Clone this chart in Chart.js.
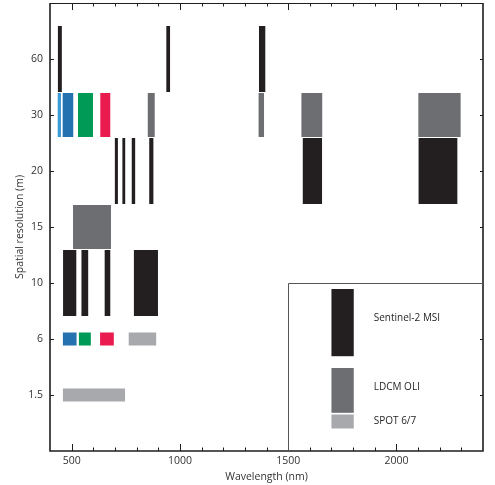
<!DOCTYPE html>
<html><head><meta charset="utf-8">
<script src="https://cdn.jsdelivr.net/npm/chart.js@4.4.1/dist/chart.umd.min.js"></script>
<style>html,body{margin:0;padding:0;background:#fff;}#wrap{width:495px;height:485px;position:relative;}</style>
</head><body><div id="wrap"><canvas id="c"></canvas></div>
<script>
// ---- data ----
const resolutionLabels = ['60', '30', '20', '15', '10', '6', '1.5'];
const xTickLabels = [500, 1000, 1500, 2000];
const xMinorStep = 100;

// Sentinel-2 MSI bands (nm) and resolution (m)
const s2Start = [434, 935, 1363, 697, 732, 775, 856, 1565, 2100, 458, 543, 650, 785];
const s2End   = [457, 957, 1397, 716, 750, 796, 880, 1659, 2284, 524, 579, 681, 901];
const s2Res   = ['60', '60', '60', '20', '20', '20', '20', '20', '20', '10', '10', '10', '10'];

// LDCM OLI bands
const oliStart = [433, 456, 527, 630, 849, 1361, 1559, 2099, 504];
const oliEnd   = [453, 510, 601, 681, 886, 1391, 1660, 2299, 684];
const oliRes   = ['30', '30', '30', '30', '30', '30', '30', '30', '15'];

// SPOT 6/7 bands
const spotStart = [457, 531, 629, 761, 457];
const spotEnd   = [525, 591, 697, 893, 749];
const spotRes   = ['6', '6', '6', '6', '1.5'];

const legendNames = ['Sentinel-2 MSI', 'LDCM OLI', 'SPOT 6/7'];

// ---- styles ----
const C_S2 = '#231f20', C_OLI = '#6d6e71', C_SPOT = '#a7a9ac';
const C_COAST = '#3d9bd8', C_BLUE = '#2472af', C_GREEN = '#009a57', C_RED = '#ea1b4f';
const s2Colors = s2Start.map(() => C_S2);
const oliColors = [C_COAST, C_BLUE, C_GREEN, C_RED, C_OLI, C_OLI, C_OLI, C_OLI, C_OLI];
const spotColors = [C_BLUE, C_GREEN, C_RED, C_SPOT, C_SPOT];
const sensorHeights = [1.2, 0.8, 0.25]; // fraction of row spacing

const yLabels = [' ', ...resolutionLabels, '  '];
const FONT = '"Open Sans", "DejaVu Sans", sans-serif';

function makeData(st, en, rs) {
  return st.map((s, i) => ({ x: [s, en[i]], y: rs[i] }));
}
function ds(label, st, en, rs, colors, h) {
  return {
    label, data: makeData(st, en, rs), backgroundColor: colors,
    borderColor: 'rgba(255,255,255,0.9)', borderWidth: 0.5, borderSkipped: false,
    grouped: false, barPercentage: h, categoryPercentage: 1
  };
}

const framePlugin = {
  id: 'framePlugin',
  afterDraw(chart) {
    const { ctx, chartArea: a, scales: { x, y } } = chart;
    ctx.save();
    ctx.strokeStyle = '#1e1e1e';
    // ticks
    ctx.lineWidth = 1;
    ctx.beginPath();
    for (let v = x.min + xMinorStep; v < x.max; v += xMinorStep) {
      const px = Math.round(x.getPixelForValue(v)) + 0.5;
      const L = xTickLabels.includes(v) ? 7 : 3.5;
      ctx.moveTo(px, a.bottom); ctx.lineTo(px, a.bottom - L);
      ctx.moveTo(px, a.top); ctx.lineTo(px, a.top + L);
    }
    resolutionLabels.forEach(r => {
      const py = Math.round(y.getPixelForValue(yLabels.indexOf(r))) + 0.5;
      ctx.moveTo(a.left, py); ctx.lineTo(a.left + 4, py);
      ctx.moveTo(a.right, py); ctx.lineTo(a.right - 3, py);
    });
    ctx.stroke();
    // frame
    ctx.lineWidth = 1;
    ctx.beginPath(); ctx.moveTo(a.left, a.top + 0.5); ctx.lineTo(a.right, a.top + 0.5); ctx.stroke();
    ctx.lineWidth = 1.6;
    ctx.beginPath();
    ctx.moveTo(a.left, a.top); ctx.lineTo(a.left, a.bottom);
    ctx.lineTo(a.right, a.bottom); ctx.lineTo(a.right, a.top);
    ctx.stroke();

    // legend box
    const lx = x.getPixelForValue(1500);
    const ly = y.getPixelForValue(yLabels.indexOf('10'));
    const row = Math.abs(y.getPixelForValue(1) - y.getPixelForValue(2));
    ctx.lineWidth = 1;
    ctx.strokeStyle = '#555';
    ctx.beginPath();
    ctx.moveTo(Math.round(lx) + 0.5, a.bottom);
    ctx.lineTo(Math.round(lx) + 0.5, Math.round(ly) + 0.5);
    ctx.lineTo(a.right, Math.round(ly) + 0.5);
    ctx.stroke();
    const sx0 = x.getPixelForValue(1700), sx1 = x.getPixelForValue(1803);
    const tops = [ly + 6, ly + 85, ly + 131.5];
    const cols = [C_S2, C_OLI, C_SPOT];
    const textY = [ly + 35.5, ly + 104, ly + 138];
    ctx.font = '10px ' + FONT;
    ctx.textBaseline = 'middle';
    ctx.textAlign = 'left';
    legendNames.forEach((n, i) => {
      ctx.fillStyle = cols[i];
      ctx.fillRect(sx0, tops[i], sx1 - sx0, sensorHeights[i] * row);
      ctx.fillStyle = '#231f20';
      ctx.fillText(n, sx1 + 20, textY[i]);
    });
    ctx.restore();
  }
};

new Chart(document.getElementById('c'), {
  type: 'bar',
  data: {
    labels: yLabels,
    datasets: [
      ds('Sentinel-2 MSI', s2Start, s2End, s2Res, s2Colors, sensorHeights[0]),
      ds('LDCM OLI', oliStart, oliEnd, oliRes, oliColors, sensorHeights[1]),
      ds('SPOT 6/7', spotStart, spotEnd, spotRes, spotColors, sensorHeights[2])
    ]
  },
  options: {
    indexAxis: 'y',
    responsive: true,
    maintainAspectRatio: false,
    animation: false,
    layout: { padding: { left: 0, top: 3, right: 12, bottom: 0 } },
    plugins: { legend: { display: false }, tooltip: { enabled: false } },
    scales: {
      x: {
        type: 'linear', position: 'bottom', min: 400, max: 2400,
        afterBuildTicks(s) { s.ticks = xTickLabels.map(v => ({ value: v })); },
        afterFit(s) { s.height = 34; s.paddingLeft = 0; s.paddingRight = 0; },
        grid: { display: false, drawTicks: false },
        border: { display: false },
        ticks: { color: '#333', font: { family: FONT, size: 10.5 }, padding: 4, maxRotation: 0,
                 callback: v => String(v) },
        title: { display: true, text: 'Wavelength (nm)', color: '#333', font: { family: FONT, size: 10.5 }, padding: { top: 0, bottom: 2 } }
      },
      y: {
        type: 'category', labels: yLabels, offset: false, position: 'left',
        afterFit(s) { s.width = 50; s.paddingTop = 0; s.paddingBottom = 0; },
        grid: { display: false, drawTicks: false },
        border: { display: false },
        ticks: { color: '#333', font: { family: FONT, size: 10.5 }, padding: 7, autoSkip: false },
        title: { display: true, text: 'Spatial resolution (m)', color: '#333', font: { family: FONT, size: 10.5 }, padding: { top: 14, bottom: 0 } }
      }
    }
  },
  plugins: [framePlugin]
});
</script></body></html>
